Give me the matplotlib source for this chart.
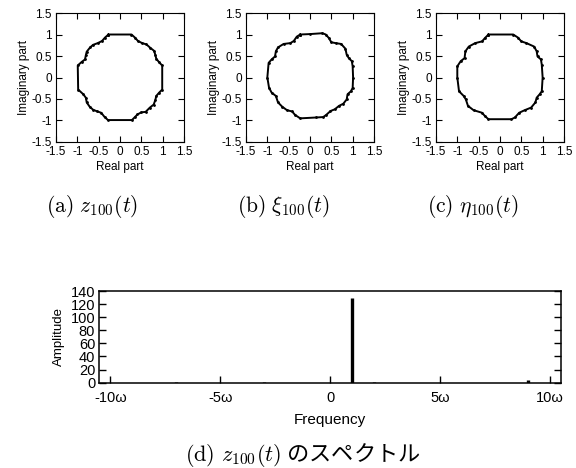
import matplotlib
matplotlib.use("Agg")
import matplotlib.pyplot as plt

plt.rcParams['font.family'] = ['Liberation Sans', 'DejaVu Sans']
plt.rcParams['mathtext.fontset'] = 'cm'

# outline of z_100(t) (clockwise from top)
a_x = [-0.27, 0.27, 0.36, 0.42, 0.52, 0.62, 0.71, 0.80, 0.83, 0.85, 0.92, 0.99,
       0.99, 0.92, 0.85, 0.83, 0.79, 0.70, 0.60, 0.50, 0.41, 0.35, 0.28,
       -0.28, -0.36, -0.44, -0.53, -0.63, -0.71, -0.78, -0.80, -0.86, -0.98,
       -0.99, -0.90, -0.82, -0.80, -0.78, -0.70, -0.63, -0.52, -0.42, -0.35, -0.27]
a_y = [1.0, 1.0, 0.92, 0.85, 0.80, 0.77, 0.69, 0.62, 0.52, 0.44, 0.35, 0.28,
       -0.28, -0.35, -0.43, -0.52, -0.63, -0.70, -0.80, -0.81, -0.86, -0.92, -0.99,
       -0.99, -0.92, -0.82, -0.79, -0.75, -0.68, -0.58, -0.47, -0.39, -0.28,
       0.28, 0.36, 0.42, 0.52, 0.60, 0.70, 0.76, 0.80, 0.85, 0.93, 1.0]

# xi_100(t)
b_x = [-0.23, 0.0, 0.29, 0.37, 0.44, 0.50, 0.60, 0.73, 0.83, 0.86, 0.91, 0.98, 1.0,
       1.01, 1.0, 0.96, 0.88, 0.86, 0.78, 0.68, 0.58, 0.48, 0.38, 0.31, 0.15,
       -0.23, -0.35, -0.42, -0.54, -0.65, -0.75, -0.80, -0.90, -0.96,
       -1.0, -0.97, -0.90, -0.82, -0.80, -0.75, -0.62, -0.46, -0.38, -0.31, -0.23]
b_y = [1.0, 1.01, 1.03, 1.0, 0.92, 0.82, 0.80, 0.78, 0.67, 0.53, 0.45, 0.38, 0.26,
       0.0, -0.24, -0.32, -0.39, -0.51, -0.61, -0.66, -0.74, -0.78, -0.87, -0.92, -0.93,
       -0.95, -0.87, -0.79, -0.76, -0.68, -0.58, -0.43, -0.35, -0.24,
       0.0, 0.34, 0.42, 0.49, 0.61, 0.70, 0.78, 0.80, 0.85, 0.95, 1.0]

# eta_100(t)
c_x = [-0.27, 0.31, 0.42, 0.50, 0.62, 0.80, 0.86, 0.88, 0.96, 0.98,
       1.0, 0.98, 0.93, 0.86, 0.83, 0.73, 0.58, 0.45, 0.35, 0.27,
       -0.27, -0.35, -0.42, -0.62, -0.75, -0.80, -0.85, -0.96,
       -1.0, -1.0, -0.92, -0.83, -0.81, -0.73, -0.58, -0.42, -0.35, -0.27]
c_y = [1.0, 1.0, 0.93, 0.84, 0.80, 0.72, 0.61, 0.49, 0.42, 0.30,
       0.0, -0.32, -0.39, -0.47, -0.58, -0.70, -0.76, -0.82, -0.93, -0.97,
       -0.97, -0.90, -0.82, -0.76, -0.66, -0.51, -0.43, -0.32,
       0.0, 0.26, 0.38, 0.45, 0.61, 0.72, 0.80, 0.84, 0.92, 1.0]

ticks = [-1.5, -1, -0.5, 0, 0.5, 1, 1.5]
tick_labels = ['-1.5', '-1', '-0.5', '0', '0.5', '1', '1.5']
captions = [r'$\mathrm{(a)}\ z_{100}(t)$', r'$\mathrm{(b)}\ \xi_{100}(t)$', r'$\mathrm{(c)}\ \eta_{100}(t)$']

# spectrum of z_100(t)
freqs = [-7, -3, 1, 2, 9]
amps = [0.8, 0.8, 130, 0.8, 4]
freq_ticks = [-10, -5, 0, 5, 10]
freq_labels = ['-10ω', '-5ω', '0', '5ω', '10ω']
amp_ticks = [0, 20, 40, 60, 80, 100, 120, 140]

fig = plt.figure(figsize=(5.76, 4.68), dpi=100)

lefts = [0.0972, 0.4271, 0.7569]
cap_x = [92, 283, 473]
for i, (xs, ys) in enumerate([(a_x, a_y), (b_x, b_y), (c_x, c_y)]):
    ax = fig.add_axes([lefts[i], 0.6966, 0.2222, 0.2756])
    ax.plot(xs + xs[:1], ys + ys[:1], color='black', lw=1.4, marker='.', ms=2)
    ax.set_xlim(-1.5, 1.5)
    ax.set_ylim(-1.5, 1.5)
    ax.set_xticks(ticks)
    ax.set_xticklabels(tick_labels)
    ax.set_yticks(ticks)
    ax.set_yticklabels(tick_labels)
    ax.tick_params(direction='in', length=4, width=0.8, labelsize=8.5, pad=3,
                   top=True, right=True)
    for s in ax.spines.values():
        s.set_linewidth(0.8)
    ax.set_xlabel('Real part', fontsize=8.5, labelpad=2)
    ax.set_ylabel('Imaginary part', fontsize=8.5, labelpad=1)
    fig.text(cap_x[i] / 576, 1 - 207 / 468, captions[i], fontsize=15.5,
             ha='center', va='center')

ax = fig.add_axes([0.1724, 0.1823, 0.8016, 0.1959])
ax.vlines(freqs, 0, amps, color='black', lw=2.4)
ax.set_xlim(-10.5, 10.5)
ax.set_ylim(0, 140)
ax.set_xticks(freq_ticks)
ax.set_xticklabels(freq_labels)
ax.set_yticks(amp_ticks)
ax.tick_params(direction='in', length=5, width=1, labelsize=10.5, pad=6)
ax.tick_params(axis='y', right=True, pad=3)
for s in ax.spines.values():
    s.set_linewidth(1.1)
ax.set_xlabel('Frequency', fontsize=11, labelpad=6)
ax.set_ylabel('Amplitude', fontsize=9.5, labelpad=4)

fig.text(303 / 576, 1 - 455 / 468, r'$\mathrm{(d)}\ z_{100}(t)$ のスペクトル',
         fontsize=16, ha='center', va='center',
         family=['Noto Sans CJK JP', 'DejaVu Sans'])

fig.savefig('out.png', dpi=100)
